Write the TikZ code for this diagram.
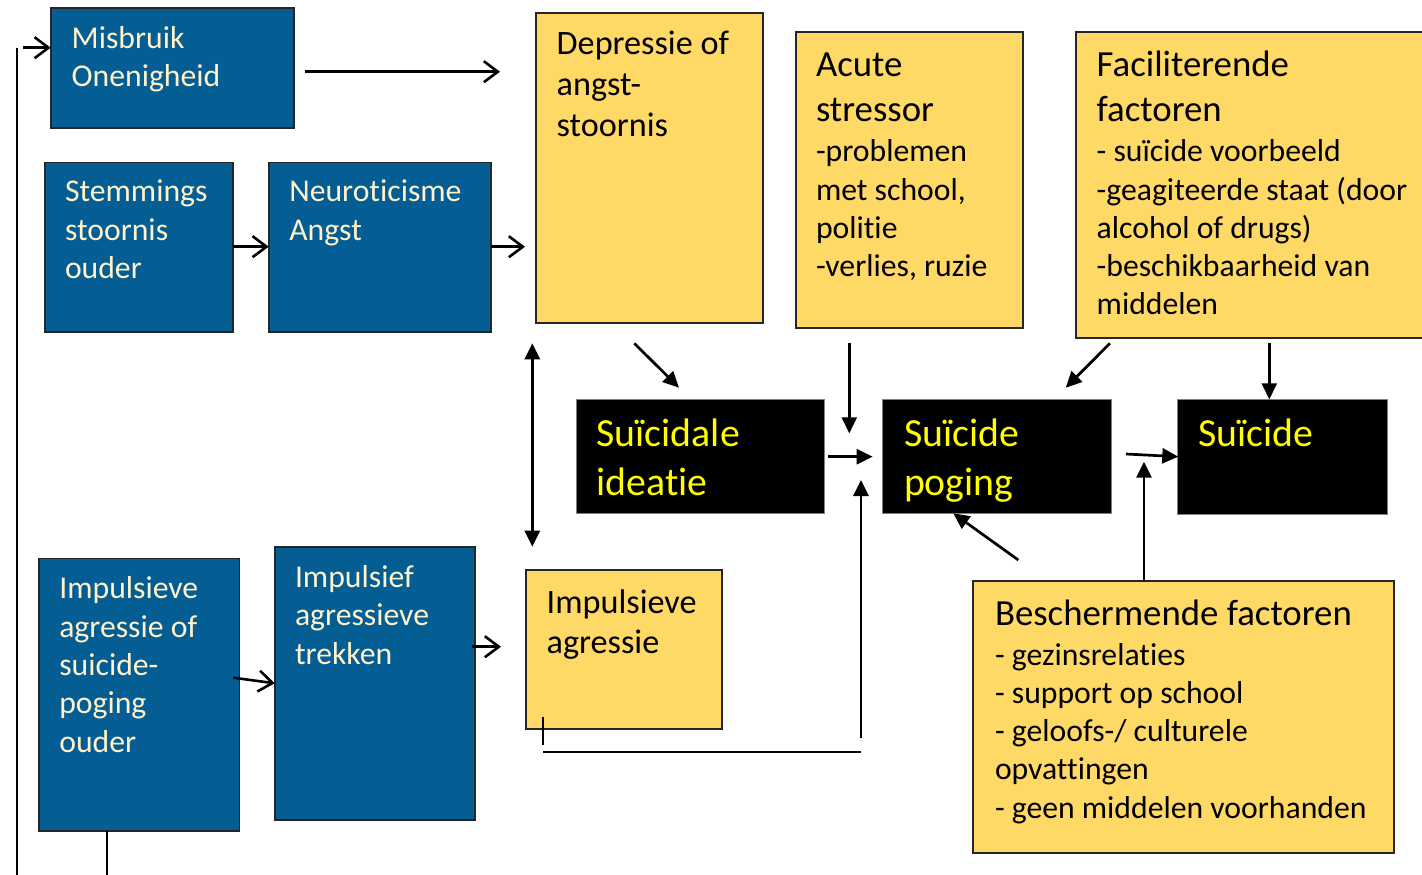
\documentclass[tikz,border=0pt]{standalone}
\usepackage{fontspec}
\setmainfont{Carlito}[Ligatures=NoCommon]
\usetikzlibrary{arrows.meta}

\definecolor{boxblue}{HTML}{045E93}
\definecolor{boxgold}{HTML}{FFD966}
\definecolor{cream}{HTML}{FFF2CC}
\definecolor{hiyellow}{HTML}{FFFF00}
\definecolor{edgegray}{HTML}{7F7F7F}

\begin{document}
\begin{tikzpicture}[x=1pt,y=-1pt,
  box/.style 2 args={minimum width=#1, minimum height=#2, anchor=north west,
    inner sep=0pt, outer sep=0pt},
  bluebox/.style={draw=black!85, line width=1.6pt, fill=boxblue},
  goldbox/.style={draw=black!85, line width=1.7pt, fill=boxgold},
  blackbox/.style={draw=edgegray, line width=0.8pt, fill=black},
  % multi-line texts are placed by the baseline of their last line
  txt/.style={anchor=base west, align=left, inner sep=0pt, outer sep=0pt},
  bodytxt/.style={txt, font=\fontsize{31.7}{38.3}\selectfont},
  bluetxt/.style={bodytxt, text=cream},
  midtxt/.style={txt, font=\fontsize{34.2}{41.3}\selectfont},
  headtxt/.style={txt, font=\fontsize{36.8}{45}\selectfont},
  bigtxt/.style={txt, font=\fontsize{39.8}{48.3}\selectfont, text=hiyellow},
  barb/.style={line width=2.6pt, -{Straight Barb[length=14pt,width=21pt]}},
  fillarrow/.style={line width=2.7pt, -{Triangle[length=16pt,width=15pt]}},
  twoway/.style={line width=2.7pt, {Triangle[length=16pt,width=15pt]}-{Triangle[length=16pt,width=15pt]}},
  plainline/.style={line width=2pt}
]
\useasboundingbox (0,0) rectangle (1422,875);

% ---- blue boxes (background factors)
\node[bluebox, box={243.3}{119.4}] (misbruik) at (50.7,8.3) {};
\node[bluebox, box={187.7}{169.4}] (stem) at (45,162.3) {};
\node[bluebox, box={222}{169.4}] (neuro) at (268.7,162.3) {};
\node[bluebox, box={200.3}{272.7}] (impouder) at (39,558.3) {};
\node[bluebox, box={200}{272.7}] (impuls) at (274.7,547) {};

% ---- gold boxes
\node[goldbox, box={227.6}{310}] (depr) at (535.7,12.7) {};
\node[goldbox, box={227}{295.4}] (acute) at (795.7,32.3) {};
\node[goldbox, box={370}{306}] (facil) at (1075.7,31.7) {};
\node[goldbox, box={195.7}{159}] (impagr) at (526,570) {};
\node[goldbox, box={421}{272.3}] (besch) at (973.3,581) {};

% ---- black boxes (outcomes)
\node[blackbox, box={247.6}{114.4}] (ideatie) at (576.7,399.3) {};
\node[blackbox, box={228.3}{114.4}] (poging) at (882.7,399.3) {};
\node[blackbox, box={210}{114.7}] (suicide) at (1177.3,399.3) {};

% ---- texts
\node[bluetxt] (tmisbruik) at (71.7,87) {Misbruik\\Onenigheid};
\node[bluetxt] (tstem) at (65,278.3) {Stemmings\\stoornis\\ouder};
\node[bluetxt] (tneuro) at (289.3,240) {Neuroticisme\\Angst};
\node[bluetxt] (timpouder) at (59.3,752) {Impulsieve\\agressie of\\suicide-\\poging\\ouder};
\node[bluetxt] (timpuls) at (295,664) {Impulsief\\agressieve\\trekken};

\node[midtxt] (tdepr) at (556.7,136.9) {Depressie of\\angst-\\stoornis};
\node[headtxt] (tacuteh) at (816,121.7) {Acute\\stressor};
\node[bodytxt] (tacuteb) at (816,276.6) {-problemen\\met school,\\politie\\-verlies, ruzie};
\node[headtxt] (tfacilh) at (1096.7,121.7) {Faciliterende\\factoren};
\node[bodytxt] (tfacilb) at (1096.7,314.9) {- suïcide voorbeeld\\-geagiteerde staat (door\\alcohol of drugs)\\-beschikbaarheid van\\middelen};
\node[txt, font=\fontsize{34.2}{40}\selectfont] (timpagr) at (546.7,653.3) {Impulsieve\\agressie};
\node[headtxt] (tbeschh) at (995,625) {Beschermende factoren};
\node[bodytxt] (tbeschb) at (995,818.2) {- gezinsrelaties\\- support op school\\- geloofs-/ culturele\\opvattingen\\- geen middelen voorhanden};

\node[bigtxt] (tideatie) at (596.7,495) {Suïcidale\\ideatie};
\node[bigtxt] (tpoging) at (904,495) {Suïcide\\poging};
\node[bigtxt] (tsuicide) at (1198.3,446.7) {Suïcide};

% ---- connector end points
\coordinate (fbtop) at (17,48.3);
\coordinate (fbbot) at (17,880);
\coordinate (fbin) at (23.3,47.7);
\coordinate (ouderdown) at (107.3,880);
\coordinate (misA) at (305,71.7);
\coordinate (misB) at (500,71.7);
\coordinate (neuroB) at (525,246.7);
\coordinate (oudA) at (233.3,677.7);
\coordinate (impA) at (471.7,646.7);
\coordinate (impB) at (501,646.7);
\coordinate (twoA) at (532.3,343.3);
\coordinate (twoB) at (532.3,546.7);
\coordinate (deprA) at (634.3,343.3);
\coordinate (deprB) at (679,387.7);
\coordinate (acuteA) at (849.3,343.3);
\coordinate (acuteB) at (849.3,433.3);
\coordinate (ideA) at (827.7,456.7);
\coordinate (ideB) at (872.7,456.7);
\coordinate (agrA) at (543.3,716.7);
\coordinate (agrB) at (543.3,745);
\coordinate (agrC) at (543.3,751.7);
\coordinate (agrD) at (861,751.7);
\coordinate (agrE) at (861,738.3);
\coordinate (agrF) at (861,480);
\coordinate (facA) at (1110,343.3);
\coordinate (facB) at (1065.7,387.7);
\coordinate (facC) at (1269.3,343.3);
\coordinate (besA) at (1018.3,560);
\coordinate (besB) at (953.3,513.3);
\coordinate (pogA) at (1126,454);
\coordinate (pogB) at (1178.3,456.7);
\coordinate (besC) at (1144,461.7);

% ---- connectors
\draw[plainline] (fbtop) -- (fbbot);
\draw[barb] (fbin) -- (misbruik.west |- fbin);
\draw[plainline] (impouder.south -| ouderdown) -- (ouderdown);
\draw[barb] (misA) -- (misB);
\draw[barb] (stem.east |- 0,246.7) -- (neuro.west |- 0,246.7);
\draw[barb] (neuro.east |- neuroB) -- (neuroB);
\draw[barb] (oudA) -- (impuls.west |- 0,683.3);
\draw[barb] (impA) -- (impB);

\draw[twoway] (twoA) -- (twoB);
\draw[fillarrow] (deprA) -- (deprB);
\draw[fillarrow] (acuteA) -- (acuteB);
\draw[fillarrow] (ideA) -- (ideB);
\draw[plainline] (agrA) -- (agrB);
\draw[plainline] (agrC) -- (agrD);
\draw[fillarrow] (agrE) -- (agrF);
\draw[fillarrow] (facA) -- (facB);
\draw[fillarrow] (facC) -- (suicide.north -| facC);
\draw[fillarrow] (besA) -- (besB);
\draw[fillarrow] (pogA) -- (pogB);
\draw[fillarrow] (besch.north -| besC) -- (besC);
\end{tikzpicture}
\end{document}
